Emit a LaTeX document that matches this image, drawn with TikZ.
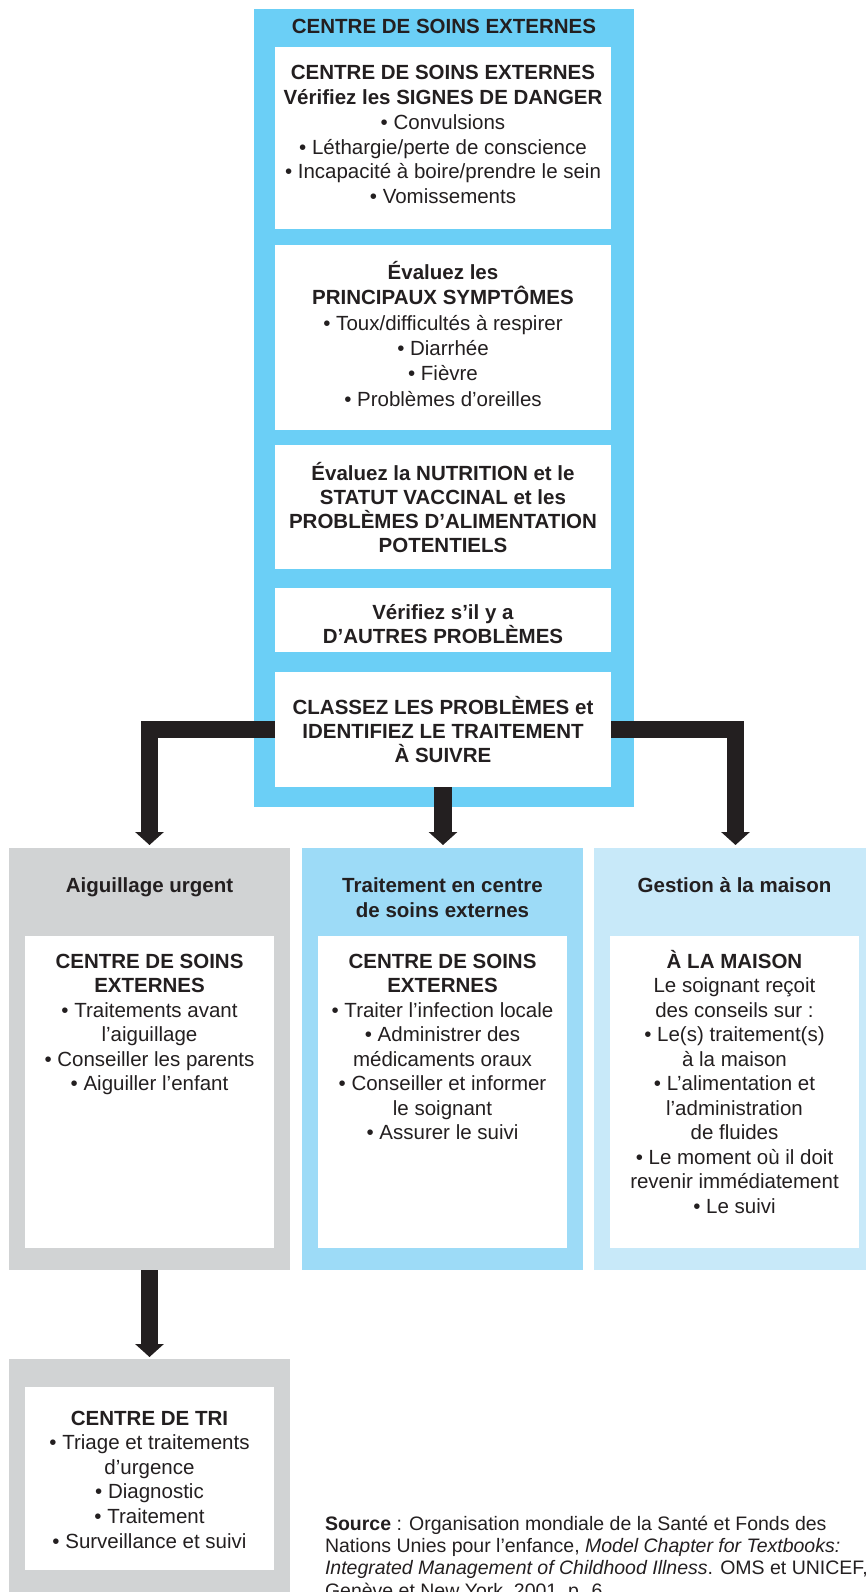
\documentclass[tikz,border=0pt]{standalone}
\usepackage{fontspec}
\setmainfont{Liberation Sans}
\usetikzlibrary{arrows.meta}
\definecolor{topblue}{RGB}{107,207,246}
\definecolor{midblue}{RGB}{157,219,247}
\definecolor{lightblue}{RGB}{200,233,249}
\definecolor{panelgray}{RGB}{209,211,212}
\definecolor{ink}{RGB}{35,31,32}
\newcommand{\fst}{\rule{0pt}{20pt}}
\begin{document}
\begin{tikzpicture}[x=1pt,y=-1pt,
  panel/.style={rectangle, draw=none, inner sep=0pt, outer sep=0pt, anchor=north west},
  whitebox/.style={panel, fill=white},
  txt/.style={inner sep=0pt, outer sep=0pt, align=center, text=ink, anchor=north, font=\fontsize{20.5}{#1}\selectfont},
  txt/.default={24.5},
  conn/.style={draw=ink, line width=17.5pt, line join=miter, -{Triangle[length=13pt,width=28pt]}}
]
\useasboundingbox (0,0) rectangle (865,1592);

% ---- top column ----
\node[panel, fill=topblue, minimum width=380pt, minimum height=798pt] (outer) at (254,9) {};
\node[txt] (title) at (444,13.3) {\fst\textbf{CENTRE DE SOINS EXTERNES}};

\node[whitebox, minimum width=336pt, minimum height=182pt] (b1) at (275,47) {};
\node[txt={24.7}] (t1) at (443,60) {\fst\textbf{CENTRE DE SOINS EXTERNES}\\ \textbf{Vérifiez les SIGNES DE DANGER}\\ • Convulsions\\ • Léthargie/perte de conscience\\ • Incapacité à boire/prendre le sein\\ • Vomissements};

\node[whitebox, minimum width=336pt, minimum height=185pt] (b2) at (275,245) {};
\node[txt={25.4}] (t2) at (443,259.3) {\fst\textbf{Évaluez les}\\ \textbf{PRINCIPAUX SYMPTÔMES}\\ • Toux/difficultés à respirer\\ • Diarrhée\\ • Fièvre\\ • Problèmes d’oreilles};

\node[whitebox, minimum width=336pt, minimum height=124pt] (b3) at (275,445) {};
\node[txt={24.2}] (t3) at (443,460) {\fst\textbf{Évaluez la NUTRITION et le}\\ \textbf{STATUT VACCINAL et les}\\ \textbf{PROBLÈMES D’ALIMENTATION}\\ \textbf{POTENTIELS}};

\node[whitebox, minimum width=336pt, minimum height=64pt] (b4) at (275,588) {};
\node[txt={24}] (t4) at (443,599.3) {\fst\textbf{Vérifiez s’il y a}\\ \textbf{D’AUTRES PROBLÈMES}};

\node[whitebox, minimum width=336pt, minimum height=115pt] (b5) at (275,672) {};
\node[txt={24.3}] (t5) at (443,694) {\fst\textbf{CLASSEZ LES PROBLÈMES et}\\ \textbf{IDENTIFIEZ LE TRAITEMENT}\\ \textbf{À SUIVRE}};

% ---- bottom row ----
\node[panel, fill=panelgray, minimum width=281pt, minimum height=422.5pt] (g1) at (9,847.5) {};
\node[panel, fill=midblue, minimum width=281pt, minimum height=422.5pt] (m1) at (302,847.5) {};
\node[panel, fill=lightblue, minimum width=281pt, minimum height=422.5pt] (r1) at (594,847.5) {};

\node[txt={24.6}] (h1) at (149.5,872.7) {\fst\textbf{Aiguillage urgent}};
\node[txt={24.6}] (h2) at (442.5,872.7) {\fst\textbf{Traitement en centre}\\ \textbf{de soins externes}};
\node[txt={24.6}] (h3) at (734.5,872.7) {\fst\textbf{Gestion à la maison}};

\node[whitebox, minimum width=249pt, minimum height=312pt] (w1) at (25,936) {};
\node[whitebox, minimum width=249pt, minimum height=312pt] (w2) at (318,936) {};
\node[whitebox, minimum width=249pt, minimum height=312pt] (w3) at (610,936) {};

\node[txt] (c1) at (149.5,948.3) {\fst\textbf{CENTRE DE SOINS}\\ \textbf{EXTERNES}\\ • Traitements avant\\ l’aiguillage\\ • Conseiller les parents\\ • Aiguiller l’enfant};
\node[txt] (c2) at (442.5,948.3) {\fst\textbf{CENTRE DE SOINS}\\ \textbf{EXTERNES}\\ • Traiter l’infection locale\\ • Administrer des\\ médicaments oraux\\ • Conseiller et informer\\ le soignant\\ • Assurer le suivi};
\node[txt] (c3) at (734.5,948.3) {\fst\textbf{À LA MAISON}\\ Le soignant reçoit\\ des conseils sur :\\ • Le(s) traitement(s)\\ à la maison\\ • L’alimentation et\\ l’administration\\ de fluides\\ • Le moment où il doit\\ revenir immédiatement\\ • Le suivi};

% ---- lower left ----
\node[panel, fill=panelgray, minimum width=281pt, minimum height=241pt] (g2) at (9,1359) {};
\node[whitebox, minimum width=249pt, minimum height=183pt] (w4) at (25,1387) {};
\node[txt={24.6}] (c4) at (149.5,1405) {\fst\textbf{CENTRE DE TRI}\\ • Triage et traitements\\ d’urgence\\ • Diagnostic\\ • Traitement\\ • Surveillance et suivi};

% ---- source ----
\node[anchor=north west, inner sep=0pt, outer sep=0pt, align=left, text=ink, font=\fontsize{19.5}{22.4}\selectfont] (src) at (325,1510) {\fst\textbf{Source} : Organisation mondiale de la Santé et Fonds des\\ Nations Unies pour l’enfance, \textit{Model Chapter for Textbooks:}\\ \textit{Integrated Management of Childhood Illness}. OMS et UNICEF,\\ Genève et New York, 2001, p. 6.};

% ---- connectors ----
\coordinate (ltip) at (149.5,845);
\coordinate (mtip) at (443,845);
\coordinate (rtip) at (735.5,845);
\coordinate (dtip) at (149.5,1357);
\draw[conn] (b5.west) -| (ltip);
\draw[conn] (b5.south) -- (mtip);
\draw[conn] (b5.east) -| (rtip);
\draw[conn] (g1.south) -- (dtip);
\end{tikzpicture}
\end{document}
